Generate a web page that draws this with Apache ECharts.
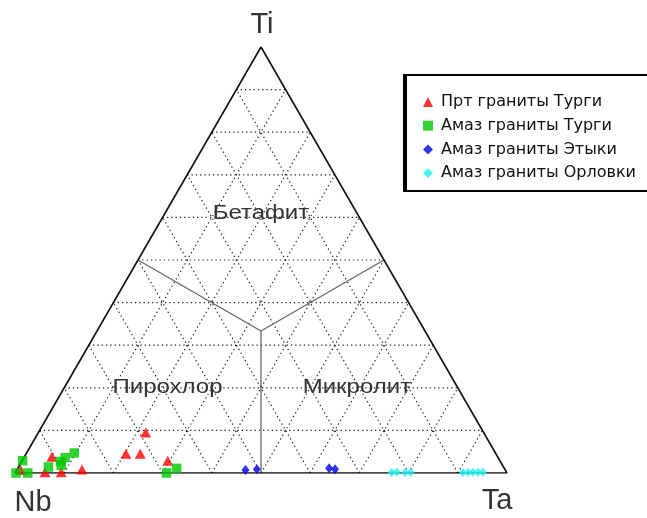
<!DOCTYPE html>
<html><head><meta charset="utf-8">
<script src="https://cdn.jsdelivr.net/npm/echarts@6/dist/echarts.min.js"></script>
<style>html,body{margin:0;padding:0;background:#fff}#c{width:647px;height:518px}</style>
</head><body><div id="c"></div>
<script>
// ---- data (percent of Nb, Ta, Ti) ----
const seriesNames = ['Прт граниты Турги', 'Амаз граниты Турги', 'Амаз граниты Этыки', 'Амаз граниты Орловки'];

const prtTurgiNb = [98.5, 90.6, 93.8, 90.5, 86.0, 68.7, 75.2, 72.3, 67.5];
const prtTurgiTa = [0.8, 5.6, 6.0, 9.3, 13.2, 21.8, 20.3, 23.2, 29.6];
const prtTurgiTi = [0.7, 3.8, 0.2, 0.2, 0.8, 9.5, 4.5, 4.5, 2.9];

const amazTurgiNb = [97.0, 99.8, 97.4, 92.5, 89.4, 88.0, 85.6, 89.7, 69.2, 66.6];
const amazTurgiTa = [0.1, 0.2, 2.6, 6.1, 7.9, 8.4, 9.7, 8.5, 30.8, 32.3];
const amazTurgiTi = [2.9, 0.0, 0.0, 1.4, 2.7, 3.6, 4.7, 1.8, 0.0, 1.1];

const amazEtykiNb = [52.8, 50.4, 35.6, 34.5];
const amazEtykiTa = [46.5, 48.7, 63.3, 64.6];
const amazEtykiTi = [0.7, 0.9, 1.1, 0.9];

const amazOrlovkiNb = [23.4, 22.3, 20.7, 19.5, 8.9, 7.8, 6.8, 5.8, 4.8];
const amazOrlovkiTa = [76.5, 77.5, 79.2, 80.3, 91.0, 92.0, 93.0, 94.0, 95.0];
const amazOrlovkiTi = [0.1, 0.2, 0.1, 0.2, 0.1, 0.2, 0.2, 0.2, 0.2];

const gridTicks = [10, 20, 30, 40, 50, 60, 70, 80, 90];
const vertexNames = ['Ti', 'Nb', 'Ta'];
const regionNames = ['Бетафит', 'Пирохлор', 'Микролит'];
const regionNb = [19.5, 59, 20.5];
const regionTa = [19.5, 21, 59.5];
const regionTi = [61, 20, 20];

// ---- ternary -> cartesian ----
function tern(nb, ta, ti) { const s = nb + ta + ti; return [(ta + ti / 2) / s, ti / s]; }
function pts(nb, ta, ti) { return nb.map((v, i) => tern(v, ta[i], ti[i])); }

const series = [];
const lineBase = { type: 'line', symbol: 'none', silent: true, animation: false, z: 1 };
// dotted grid
gridTicks.forEach(t => {
  const dot = { color: '#222', width: 1.2, type: [1.3, 3] };
  series.push(Object.assign({}, lineBase, { lineStyle: dot, data: [tern(100 - t, 0, t), tern(0, 100 - t, t)] }));
  series.push(Object.assign({}, lineBase, { lineStyle: dot, data: [tern(100 - t, t, 0), tern(0, t, 100 - t)] }));
  series.push(Object.assign({}, lineBase, { lineStyle: dot, data: [tern(t, 100 - t, 0), tern(t, 0, 100 - t)] }));
});
// field boundaries
const c = tern(1, 1, 1);
[[50, 0, 50], [0, 50, 50], [50, 50, 0]].forEach(m => {
  series.push(Object.assign({}, lineBase, { z: 2, lineStyle: { color: '#666', width: 1.3 }, data: [c, tern(m[0], m[1], m[2])] }));
});
// outline
series.push(Object.assign({}, lineBase, { z: 3, lineStyle: { color: '#111', width: 1.6 },
  data: [tern(100, 0, 0), tern(0, 100, 0), tern(0, 0, 100), tern(100, 0, 0)] }));

const sc = { type: 'scatter', z: 5, animation: false };
series.push(Object.assign({}, sc, { name: seriesNames[0], symbol: 'triangle', symbolSize: [11, 10], itemStyle: { color: '#ff0000' }, data: pts(prtTurgiNb, prtTurgiTa, prtTurgiTi) }));
series.push(Object.assign({}, sc, { name: seriesNames[1], symbol: 'rect', symbolSize: 9.5, itemStyle: { color: '#00c800' }, data: pts(amazTurgiNb, amazTurgiTa, amazTurgiTi) }));
series.push(Object.assign({}, sc, { name: seriesNames[2], symbol: 'diamond', symbolSize: [8, 10], itemStyle: { color: '#0000e6' }, data: pts(amazEtykiNb, amazEtykiTa, amazEtykiTi) }));
series.push(Object.assign({}, sc, { name: seriesNames[3], symbol: 'diamond', symbolSize: [8, 9], itemStyle: { color: '#22f0f0' }, data: pts(amazOrlovkiNb, amazOrlovkiTa, amazOrlovkiTi) }));

const chart = echarts.init(document.getElementById('c'), null, { renderer: 'canvas' });
chart.setOption({
  backgroundColor: '#fff',
  animation: false,
  grid: { left: 15, top: 47, width: 492, height: 426 },
  xAxis: { type: 'value', min: 0, max: 1, show: false },
  yAxis: { type: 'value', min: 0, max: 1, show: false },
  legend: {
    orient: 'vertical', left: 418, top: 89, itemWidth: 10, itemHeight: 10, itemGap: 7.7,
    data: seriesNames.map((n, i) => ({ name: n, icon: ['triangle', 'rect', 'diamond', 'diamond'][i] })),
    textStyle: { fontFamily: 'DejaVu Sans', fontSize: 16, color: '#111', lineHeight: 16, padding: [0, 0, 0, 3] },
    selectedMode: false
  },
  series: series
});

// text labels positioned from ternary coordinates
const g = [];
const vpos = [[0, 0, 100], [100, 0, 0], [0, 100, 0]];
const voff = [[1, -22], [18, 30], [-10, 28]];
vertexNames.forEach((n, i) => {
  const p = chart.convertToPixel('grid', tern(vpos[i][0], vpos[i][1], vpos[i][2]));
  g.push({ type: 'text', x: p[0] + voff[i][0], y: p[1] + voff[i][1], z: 10,
    style: { text: n, font: '29px "Liberation Sans"', fill: '#333', align: 'center', verticalAlign: 'middle' } });
});
regionNames.forEach((n, i) => {
  const p = chart.convertToPixel('grid', tern(regionNb[i], regionTa[i], regionTi[i]));
  g.push({ type: 'text', x: p[0], y: p[1], scaleX: 1.2, z: 10,
    style: { text: n, font: '20px "Liberation Sans"', fill: '#333', align: 'center', verticalAlign: 'middle' } });
});
// legend frame
g.push({ type: 'rect', z: 0, shape: { x: 405, y: 75, width: 260, height: 116 }, style: { fill: '#fff', stroke: '#000', lineWidth: 2 } });
g.push({ type: 'line', z: 0, shape: { x1: 405, y1: 74, x2: 405, y2: 192 }, style: { stroke: '#000', lineWidth: 4 } });
chart.setOption({ graphic: g });
</script></body></html>
